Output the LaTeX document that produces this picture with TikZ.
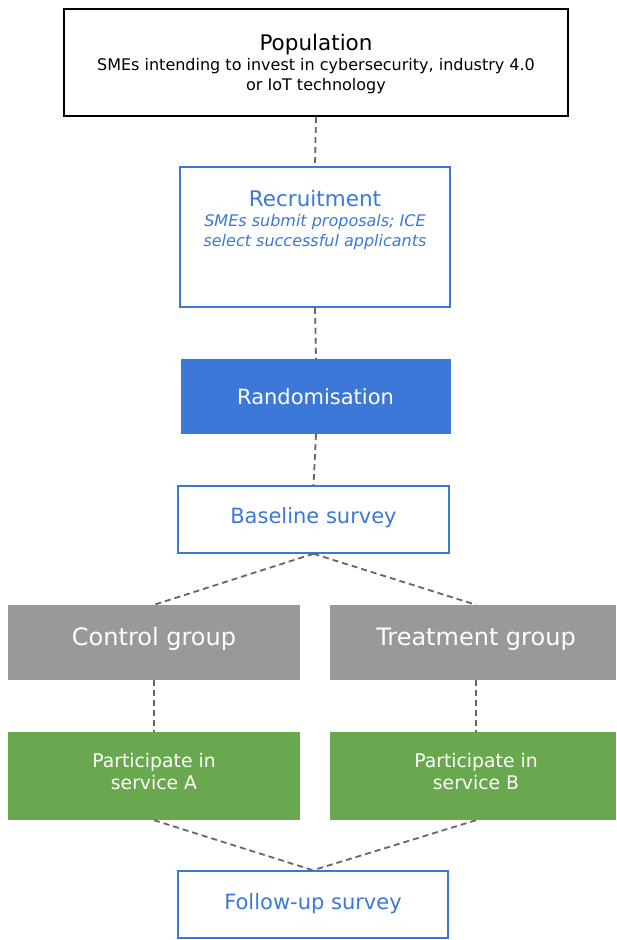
\documentclass[tikz,border=0pt]{standalone}
\usepackage{fontspec}
\setmainfont{DejaVu Sans}
\definecolor{flowblue}{HTML}{3C78D8}
\definecolor{flowgreen}{HTML}{6AA84F}
\definecolor{flowgray}{HTML}{999999}
\definecolor{linkgray}{HTML}{666666}
\newcommand{\titlesize}{\fontsize{21.5pt}{24pt}\selectfont}
\newcommand{\subsize}{\fontsize{16pt}{20pt}\selectfont}
\newcommand{\stepsize}{\fontsize{21pt}{24pt}\selectfont}
\begin{document}
\begin{tikzpicture}[x=1pt,y=-1pt,
  box/.style={rectangle, inner sep=0pt, align=center},
  outlinebox/.style={box, draw=flowblue, line width=1.5pt, fill=white, text=flowblue},
  bluebox/.style={box, fill=flowblue, text=white},
  graybox/.style={box, fill=flowgray, text=white},
  greenbox/.style={box, fill=flowgreen, text=white},
  link/.style={draw=linkgray, line width=1.8pt, dash pattern=on 6pt off 4pt}
]
\useasboundingbox[fill=white] (0,0) rectangle (616,940);

% boxes
\node[box, draw=black, line width=1.8pt, minimum width=504pt, minimum height=107pt]
  (pop) at (316,62.5) {};
\node[box, font=\subsize] (poptext) at (316,63.5)
  {{\titlesize Population}\\[0pt]
   SMEs intending to invest in cybersecurity, industry 4.0\\ or IoT technology};

\node[outlinebox, minimum width=270pt, minimum height=140pt] (rec) at (315,237) {};
\node[box, text=flowblue, font=\subsize\itshape] (rectext) at (315,219.5)
  {{\titlesize\upshape Recruitment}\\[0pt]
   SMEs submit proposals; ICE\\ select successful applicants};

\node[bluebox, minimum width=270pt, minimum height=75pt] (rand) at (316,396.5) {};
\node[box, text=white, font=\stepsize] (randtext) at (315.5,396.5) {Randomisation};

\node[outlinebox, minimum width=271pt, minimum height=67pt] (base) at (313.5,519.5) {};
\node[box, text=flowblue, font=\stepsize] (basetext) at (313.5,518) {Baseline survey};

\node[graybox, minimum width=292pt, minimum height=75pt] (ctrl) at (154,642.5) {};
\node[box, text=white, font=\fontsize{24pt}{28pt}\selectfont] (ctrltext) at (154,639) {Control group};
\node[graybox, minimum width=286pt, minimum height=75pt] (treat) at (473,642.5) {};
\node[box, text=white, font=\fontsize{24pt}{28pt}\selectfont] (treattext) at (476,639) {Treatment group};

\node[greenbox, minimum width=292pt, minimum height=88pt] (partA) at (154,776) {};
\node[box, text=white, font=\fontsize{18.8pt}{22pt}\selectfont] (partAtext) at (154,771) {Participate in\\ service A};
\node[greenbox, minimum width=286pt, minimum height=88pt] (partB) at (473,776) {};
\node[box, text=white, font=\fontsize{18.8pt}{22pt}\selectfont] (partBtext) at (476,771) {Participate in\\ service B};

\node[outlinebox, minimum width=270pt, minimum height=67pt] (fu) at (313,904.5) {};
\node[box, text=flowblue, font=\stepsize] (futext) at (313,904) {Follow-up survey};

% connectors
\draw[link] (pop.south) -- (rec.north);
\draw[link] (rec.south) -- (rand.north);
\draw[link] (rand.south) -- (base.north);
\draw[link] (base.south) -- (ctrl.north);
\draw[link] (base.south) -- ([xshift=3pt]treat.north);
\draw[link] (ctrl.south) -- (partA.north);
\draw[link] ([xshift=3pt]treat.south) -- ([xshift=3pt]partB.north);
\draw[link] (partA.south) -- (fu.north);
\draw[link] ([xshift=3pt]partB.south) -- (fu.north);
\end{tikzpicture}
\end{document}
